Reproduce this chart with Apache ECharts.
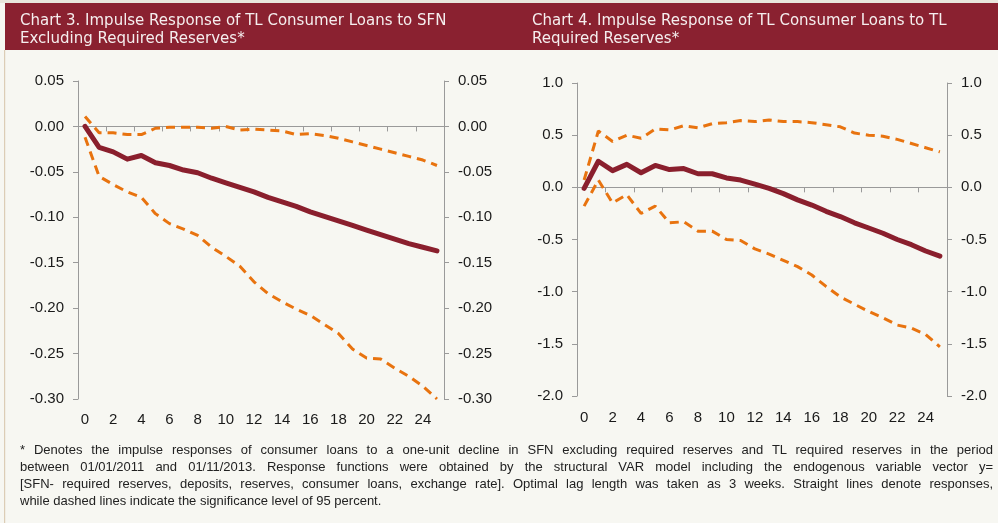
<!DOCTYPE html>
<html>
<head>
<meta charset="utf-8">
<script src="https://cdn.jsdelivr.net/npm/echarts@6/dist/echarts.min.js"></script>
<style>
  html, body { margin: 0; padding: 0; background: #f7f7f2; }
  #wrap { position: relative; width: 998px; height: 523px; overflow: hidden; }
  #chart { position: absolute; left: 0; top: 0; width: 998px; height: 523px; }
  #note { position: absolute; left: 20px; top: 441px; width: 973px;
          font: 13px "Liberation Sans", Arial, sans-serif; line-height: 17px; color: #222; }
  #note div { white-space: nowrap; text-align: justify; text-align-last: justify; }
  #note div.last { text-align-last: left; }
</style>
</head>
<body>
<div id="wrap">
  <div id="chart"></div>
  <div id="note">
    <div>* Denotes the impulse responses of consumer loans to a one-unit decline in SFN excluding required reserves and TL required reserves in the period</div>
    <div>between 01/01/2011 and 01/11/2013. Response functions were obtained by the structural VAR model including the endogenous variable vector y=</div>
    <div>[SFN- required reserves, deposits, reserves, consumer loans, exchange rate]. Optimal lag length was taken as 3 weeks. Straight lines denote responses,</div>
    <div class="last">while dashed lines indicate the significance level of 95 percent.</div>
  </div>
</div>
<script>
  // horizon 0..25 weeks
  const weeks = ['0','1','2','3','4','5','6','7','8','9','10','11','12','13','14','15','16','17','18','19','20','21','22','23','24','25'];

  // Chart 3: response to SFN excl. required reserves
  const sfnResp = [0, -0.023, -0.028, -0.036, -0.032, -0.040, -0.043, -0.048, -0.051, -0.057, -0.062, -0.067, -0.072, -0.078, -0.083, -0.088, -0.094, -0.099, -0.104, -0.109, -0.114, -0.119, -0.124, -0.129, -0.133, -0.137];
  const sfnUpper = [0.011, -0.007, -0.007, -0.009, -0.009, -0.002, -0.001, -0.001, -0.001, -0.002, 0.000, -0.004, -0.003, -0.004, -0.005, -0.009, -0.008, -0.010, -0.013, -0.017, -0.021, -0.025, -0.029, -0.033, -0.037, -0.043];
  const sfnLower = [-0.012, -0.055, -0.064, -0.072, -0.078, -0.096, -0.107, -0.113, -0.120, -0.133, -0.143, -0.154, -0.171, -0.184, -0.193, -0.201, -0.208, -0.218, -0.228, -0.245, -0.255, -0.256, -0.266, -0.275, -0.286, -0.300];

  // Chart 4: response to TL required reserves
  const rrResp = [-0.01, 0.25, 0.16, 0.22, 0.14, 0.21, 0.17, 0.18, 0.13, 0.13, 0.09, 0.07, 0.03, -0.01, -0.06, -0.12, -0.17, -0.23, -0.28, -0.34, -0.39, -0.44, -0.50, -0.55, -0.61, -0.66];
  const rrUpper = [0.07, 0.54, 0.44, 0.50, 0.47, 0.56, 0.55, 0.59, 0.57, 0.61, 0.62, 0.64, 0.63, 0.645, 0.63, 0.63, 0.62, 0.60, 0.58, 0.52, 0.50, 0.49, 0.46, 0.42, 0.38, 0.34];
  const rrLower = [-0.18, 0.07, -0.15, -0.07, -0.25, -0.18, -0.34, -0.33, -0.42, -0.42, -0.50, -0.51, -0.59, -0.64, -0.70, -0.76, -0.84, -0.95, -1.05, -1.12, -1.19, -1.25, -1.32, -1.35, -1.41, -1.53];

  const title3 = 'Chart 3. Impulse Response of TL Consumer Loans to SFN\nExcluding Required Reserves*';
  const title4 = 'Chart 4. Impulse Response of TL Consumer Loans to TL\nRequired Reserves*';

  const axisGrey = '#9a9a9a';
  const labelFont = { fontFamily: 'Liberation Sans', fontSize: 15, color: '#1a1a1a' };

  function zeroAxis(grid) {
    return {
      type: 'category', gridIndex: grid, data: weeks,
      axisLine: { onZero: true, lineStyle: { color: axisGrey, width: 1 } },
      axisTick: { show: true, length: 5, lineStyle: { color: axisGrey } },
      axisLabel: { show: false }
    };
  }
  function labelAxis(grid, margin) {
    return {
      type: 'category', gridIndex: grid, data: weeks, position: 'bottom',
      axisLine: { show: false, onZero: false },
      axisTick: { show: false },
      axisLabel: Object.assign({ interval: 1, margin: margin }, labelFont)
    };
  }
  function valAxis(grid, pos, min, max, step, digits) {
    return {
      type: 'value', gridIndex: grid, position: pos, min: min, max: max, interval: step,
      axisLine: { show: true, lineStyle: { color: axisGrey } },
      axisTick: { show: true, length: 5, lineStyle: { color: axisGrey } },
      splitLine: { show: false },
      axisLabel: Object.assign({ margin: 14, formatter: v => v.toFixed(digits) }, labelFont)
    };
  }
  function band(data, xi, yi) {
    return {
      type: 'line', data: data, xAxisIndex: xi, yAxisIndex: yi, symbol: 'none',
      lineStyle: { color: '#e8730f', width: 3, type: [9, 6] }, z: 2
    };
  }
  function resp(data, xi, yi) {
    return {
      type: 'line', data: data, xAxisIndex: xi, yAxisIndex: yi, symbol: 'none',
      lineStyle: { color: '#8a1f2d', width: 5, cap: 'round', join: 'round' }, z: 3
    };
  }

  const chart = echarts.init(document.getElementById('chart'));
  chart.setOption({
    backgroundColor: '#f7f7f2',
    animation: false,
    graphic: [
      { type: 'rect', shape: { x: 0, y: 0, width: 998, height: 3 }, style: { fill: '#e9e6dc' } },
      { type: 'rect', shape: { x: 5, y: 3, width: 993, height: 47 }, style: { fill: '#8a2130' } },
      { type: 'rect', shape: { x: 4, y: 50, width: 1.2, height: 473 }, style: { fill: '#dccdb6' } },
      { type: 'text', x: 20, y: 12, style: { text: title3, fill: '#f5eeee', font: '15px "DejaVu Sans"', lineHeight: 18 } },
      { type: 'text', x: 532, y: 12, style: { text: title4, fill: '#f5eeee', font: '15px "DejaVu Sans"', lineHeight: 18 } }
    ],
    grid: [
      { left: 78, right: 554, top: 81, bottom: 124 },
      { left: 577, right: 51, top: 83, bottom: 127 }
    ],
    xAxis: [zeroAxis(0), labelAxis(0, 13), zeroAxis(1), labelAxis(1, 14)],
    yAxis: [
      valAxis(0, 'left', -0.3, 0.05, 0.05, 2),
      valAxis(0, 'right', -0.3, 0.05, 0.05, 2),
      valAxis(1, 'left', -2, 1, 0.5, 1),
      valAxis(1, 'right', -2, 1, 0.5, 1)
    ],
    series: [
      band(sfnUpper, 0, 0), band(sfnLower, 0, 0), resp(sfnResp, 0, 0),
      band(rrUpper, 2, 2), band(rrLower, 2, 2), resp(rrResp, 2, 2)
    ]
  });
</script>
</body>
</html>
